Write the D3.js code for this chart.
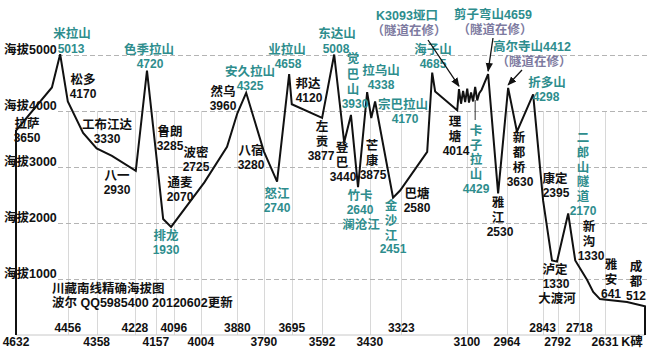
<!DOCTYPE html>
<html>
<head>
<meta charset="utf-8">
<script src="https://cdn.jsdelivr.net/npm/d3@7"></script>
<style>
  html, body { margin: 0; padding: 0; background: #ffffff; }
  svg { display: block; font-family: "Liberation Sans", "Noto Sans CJK SC", sans-serif; font-weight: bold; }
</style>
</head>
<body>
<svg id="chart" width="650" height="350"></svg>
<script>
// ---- Road profile: K-marker (km), elevation (m) and stop name ("" = unnamed bend)
const profileKm = [
  4632, 4510, 4482, 4456, 4404, 4358, 4306, 4225, 4187, 4157,
  4132, 4105, 3992, 3915, 3880, 3850, 3790, 3745, 3704, 3695,
  3592, 3551, 3517, 3494, 3470, 3439, 3425, 3412, 3351, 3327,
  3235, 3218, 3208, 3133, 3127, 3120, 3113, 3106, 3099, 3093,
  3086, 3079, 3072, 3065, 3058, 3050, 3028, 2994, 2960, 2930,
  2875, 2841, 2811, 2794, 2756, 2732, 2692, 2671, 2648, 2556,
  2495
];
const profileElev = [
  3650, 4420, 5013, 4170, 3610, 3330, 3200, 2930, 4720, 3285,
  2070, 1930, 2725, 3360, 3960, 4325, 3280, 2740, 4658, 4120,
  3877, 5008, 3440, 3930, 2640, 4338, 3875, 4170, 2451, 2580,
  3270, 4685, 4350, 4014, 4390, 4130, 4360, 4160, 4400, 4150,
  4330, 4170, 4429, 4190, 4320, 4380, 4659, 2530, 4412, 3630,
  4298, 2395, 1330, 1310, 2170, 1330, 985, 770, 641, 590,
  512
];
const profileName = [
  "拉萨", "", "米拉山", "松多", "", "工布江达", "", "八一", "色季拉山", "鲁朗",
  "通麦", "排龙", "波密", "", "然乌", "安久拉山", "八宿", "怒江", "业拉山", "邦达",
  "左贡", "东达山", "登巴", "觉巴山", "竹卡", "拉乌山", "芒康", "宗巴拉山", "金沙江", "巴塘",
  "", "海子山", "", "理塘", "K3093垭口", "", "", "", "", "",
  "", "", "卡子拉山", "", "", "", "剪子弯山", "雅江", "高尔寺山", "新都桥",
  "折多山", "康定", "泸定", "", "二郎山隧道", "新沟", "", "", "雅安", "",
  "成都"
];

// ---- Axes
const elevTicks = [1000, 2000, 3000, 4000, 5000];
const elevTickPrefix = "海拔";
const kmTicksUpper = [4456, 4228, 4096, 3880, 3695, 3323, 2843, 2718];
const kmTicksLower = [4632, 4358, 4157, 4004, 3790, 3592, 3430, 3100, 2964, 2792, 2631];
const kmUnit = "K碑";

// ---- Captions
const titleText = "川藏南线精确海拔图";
const creditText = "波尔 QQ5985400 20120602更新";
const tunnelNote = "（隧道在修）";
const extraPlaceNames = ["澜沧江", "大渡河"];

// ---- Styling
const colour = { pass: "#2e8d8d", town: "#111111", note: "#7d7aa0", grid: "#d8d8d8", dash: "#b4b4b4" };

// ---- Label placement: name, style, orientation, name x, name baseline, value x, value baseline, char step
const labelLayout = [
  ["米拉山",   "pass", "h", 72, 38, 71, 53],
  ["色季拉山", "pass", "h", 149, 54, 150, 68],
  ["安久拉山", "pass", "h", 250, 76, 250, 90],
  ["业拉山",   "pass", "h", 287, 54, 288, 68],
  ["东达山",   "pass", "h", 337, 38, 336, 53],
  ["觉巴山",   "pass", "v", 353, 63, 355, 108, 15.5],
  ["拉乌山",   "pass", "h", 381, 75, 381, 89],
  ["宗巴拉山", "pass", "h", 403, 109, 405, 123],
  ["海子山",   "pass", "h", 433, 54, 433, 68],
  ["折多山",   "pass", "h", 547, 87, 546, 101],
  ["卡子拉山", "pass", "v", 476, 135, 476, 193, 14.6],
  ["二郎山隧道", "pass", "v", 583, 142, 583, 215, 14.8],
  ["排龙",     "pass", "h", 166, 240, 166, 254],
  ["怒江",     "pass", "h", 277, 198, 277, 212],
  ["竹卡",     "pass", "h", 360, 200, 360, 214],
  ["金沙江",   "pass", "v", 391, 210, 393, 253, 15],
  ["拉萨",     "town", "h", 27, 128, 27, 142],
  ["松多",     "town", "h", 83, 84, 83, 98],
  ["工布江达", "town", "h", 107, 129, 107, 143],
  ["八一",     "town", "h", 117, 180, 117, 194],
  ["鲁朗",     "town", "h", 170, 136, 170, 150],
  ["波密",     "town", "h", 196, 157, 196, 171],
  ["通麦",     "town", "h", 180, 187, 180, 201],
  ["然乌",     "town", "h", 223, 96, 223, 110],
  ["八宿",     "town", "h", 251, 155, 251, 169],
  ["邦达",     "town", "h", 308, 88, 309, 102],
  ["左贡",     "town", "v", 322, 131, 321, 160, 15],
  ["登巴",     "town", "v", 342, 152, 343, 181, 15],
  ["芒康",     "town", "v", 372, 150, 373, 179, 15],
  ["巴塘",     "town", "h", 417, 198, 417, 212],
  ["理塘",     "town", "v", 455, 126, 456, 155, 15],
  ["新都桥",   "town", "v", 519, 142, 520, 186, 15],
  ["雅江",     "town", "v", 498, 207, 500, 236, 15],
  ["康定",     "town", "h", 555, 183, 556, 197],
  ["新沟",     "town", "v", 589, 231, 591, 260, 15],
  ["泸定",     "town", "h", 555, 274, 556, 288],
  ["雅安",     "town", "v", 611, 269, 611, 298, 15],
  ["成都",     "town", "v", 636, 271, 636, 300, 15]
];
// free-standing names: text, style, x, baseline
const extraLayout = [
  [extraPlaceNames[0], "pass", 361, 229],
  [extraPlaceNames[1], "town", 557, 303]
];
// callouts with arrows: stop, show value, text x, baseline, arrow start x, y, tunnel note
const calloutLayout = [
  ["K3093垭口", false, 407, 20, 428, 40, true],
  ["剪子弯山",  true,  493, 19, 493, 38, true],
  ["高尔寺山",  true,  532, 51, 522, 70, true]
];

// ---- Scales
const W = 650, H = 350;
const x = d3.scaleLinear().domain([4632, 2495]).range([16, 645]);
const y = d3.scaleLinear().domain([0, 5000]).range([335, 55]);

const svg = d3.select("#chart");
svg.append("rect").attr("width", W).attr("height", H).attr("fill", "#ffffff");

const defs = svg.append("defs");
defs.append("marker")
  .attr("id", "arrowHead").attr("viewBox", "0 0 10 10")
  .attr("refX", 9).attr("refY", 5)
  .attr("markerWidth", 7).attr("markerHeight", 7)
  .attr("orient", "auto")
  .append("path").attr("d", "M0,1 L10,5 L0,9 Z").attr("fill", "#111");

// ---- Vertical grid at marked K-posts
const allKmTicks = kmTicksUpper.concat(kmTicksLower).filter(k => k !== 4632);
svg.append("g").selectAll("line").data(allKmTicks).join("line")
  .attr("x1", d => Math.round(x(d)) + 0.5).attr("x2", d => Math.round(x(d)) + 0.5)
  .attr("y1", y(4000)).attr("y2", y(0))
  .attr("stroke", colour.grid).attr("stroke-width", 1);

// ---- Baseline
svg.append("line")
  .attr("x1", x(4632)).attr("x2", x(2495)).attr("y1", y(0)).attr("y2", y(0))
  .attr("stroke", "#c8c8c8").attr("stroke-width", 1);

// ---- Horizontal dashed elevation grid + labels
const yAxis = svg.append("g");
yAxis.selectAll("line").data(elevTicks).join("line")
  .attr("x1", 58).attr("x2", W)
  .attr("y1", d => Math.round(y(d)) + 0.5).attr("y2", d => Math.round(y(d)) + 0.5)
  .attr("stroke", colour.dash).attr("stroke-width", 1).attr("stroke-dasharray", "5,3");
yAxis.selectAll("text").data(elevTicks).join("text")
  .attr("x", 4).attr("y", d => y(d) - 1.5)
  .attr("font-size", 12.5).attr("fill", colour.town)
  .text(d => elevTickPrefix + d);

// ---- K-post tick labels (two staggered rows)
const xAxis = svg.append("g").attr("font-size", 12).attr("fill", colour.town).attr("text-anchor", "middle");
xAxis.selectAll("text.up").data(kmTicksUpper).join("text").attr("class", "up")
  .attr("x", d => x(d)).attr("y", 332).text(d => d);
xAxis.selectAll("text.low").data(kmTicksLower).join("text").attr("class", "low")
  .attr("x", d => x(d)).attr("y", 346).text(d => d);
xAxis.append("text").attr("x", x(2631) + 27).attr("y", 346).attr("font-size", 12.5).text(kmUnit);

// ---- Profile outline (closed down to sea level at both ends)
const pts = profileKm.map((k, i) => [k, profileElev[i]]);
const outline = [[profileKm[0], 0]].concat(pts, [[profileKm[profileKm.length - 1], 0]]);
svg.append("path")
  .attr("d", d3.line().x(d => x(d[0])).y(d => y(d[1]))(outline))
  .attr("fill", "none").attr("stroke", "#111").attr("stroke-width", 2)
  .attr("stroke-linejoin", "miter").attr("stroke-miterlimit", 3);

// ---- Stop labels
const idx = name => profileName.indexOf(name);
const labels = svg.append("g").attr("text-anchor", "middle");
labelLayout.forEach(([name, style, orient, nx, ny, vx, vy, step]) => {
  const i = idx(name);
  const fill = colour[style];
  if (orient === "h") {
    labels.append("text").attr("x", nx).attr("y", ny).attr("font-size", 12.5).attr("fill", fill).text(name);
  } else {
    // vertical name: one text element, one character per line
    const t = labels.append("text").attr("font-size", 12.5).attr("fill", fill);
    Array.from(name).forEach((ch, j) => {
      t.append("tspan").attr("x", nx).attr("y", ny + j * step).text(ch);
    });
  }
  labels.append("text").attr("x", vx).attr("y", vy).attr("font-size", 12).attr("fill", fill)
    .text(profileElev[i]);
});
extraLayout.forEach(([txt, style, tx, ty]) => {
  labels.append("text").attr("x", tx).attr("y", ty).attr("font-size", 12.5)
    .attr("fill", colour[style]).text(txt);
});

// pointer from the zigzag to the vertical Kazila label
{
  const i = idx("卡子拉山");
  svg.append("line")
    .attr("x1", x(profileKm[i])).attr("x2", x(profileKm[i]))
    .attr("y1", y(profileElev[i]) + 13).attr("y2", 120)
    .attr("stroke", "#333").attr("stroke-width", 1);
}

// ---- Callouts with arrows
calloutLayout.forEach(([name, showValue, tx, ty, ax, ay, note]) => {
  const i = idx(name);
  labels.append("text").attr("x", tx).attr("y", ty).attr("font-size", 12.5)
    .attr("fill", colour.pass).text(showValue ? name + profileElev[i] : name);
  if (note) {
    labels.append("text").attr("x", tx + 2).attr("y", ty + 15).attr("font-size", 12.5)
      .attr("fill", colour.note).text(tunnelNote);
  }
  svg.append("line")
    .attr("x1", ax).attr("y1", ay)
    .attr("x2", x(profileKm[i])).attr("y2", y(profileElev[i]) - 3)
    .attr("stroke", "#111").attr("stroke-width", 1.3)
    .attr("marker-end", "url(#arrowHead)");
});

// ---- Title and credit
svg.append("text").attr("x", 52).attr("y", 293).attr("font-size", 12.5).attr("fill", colour.town).text(titleText);
svg.append("text").attr("x", 52).attr("y", 307).attr("font-size", 12.5).attr("fill", colour.town).text(creditText);
</script>
</body>
</html>
